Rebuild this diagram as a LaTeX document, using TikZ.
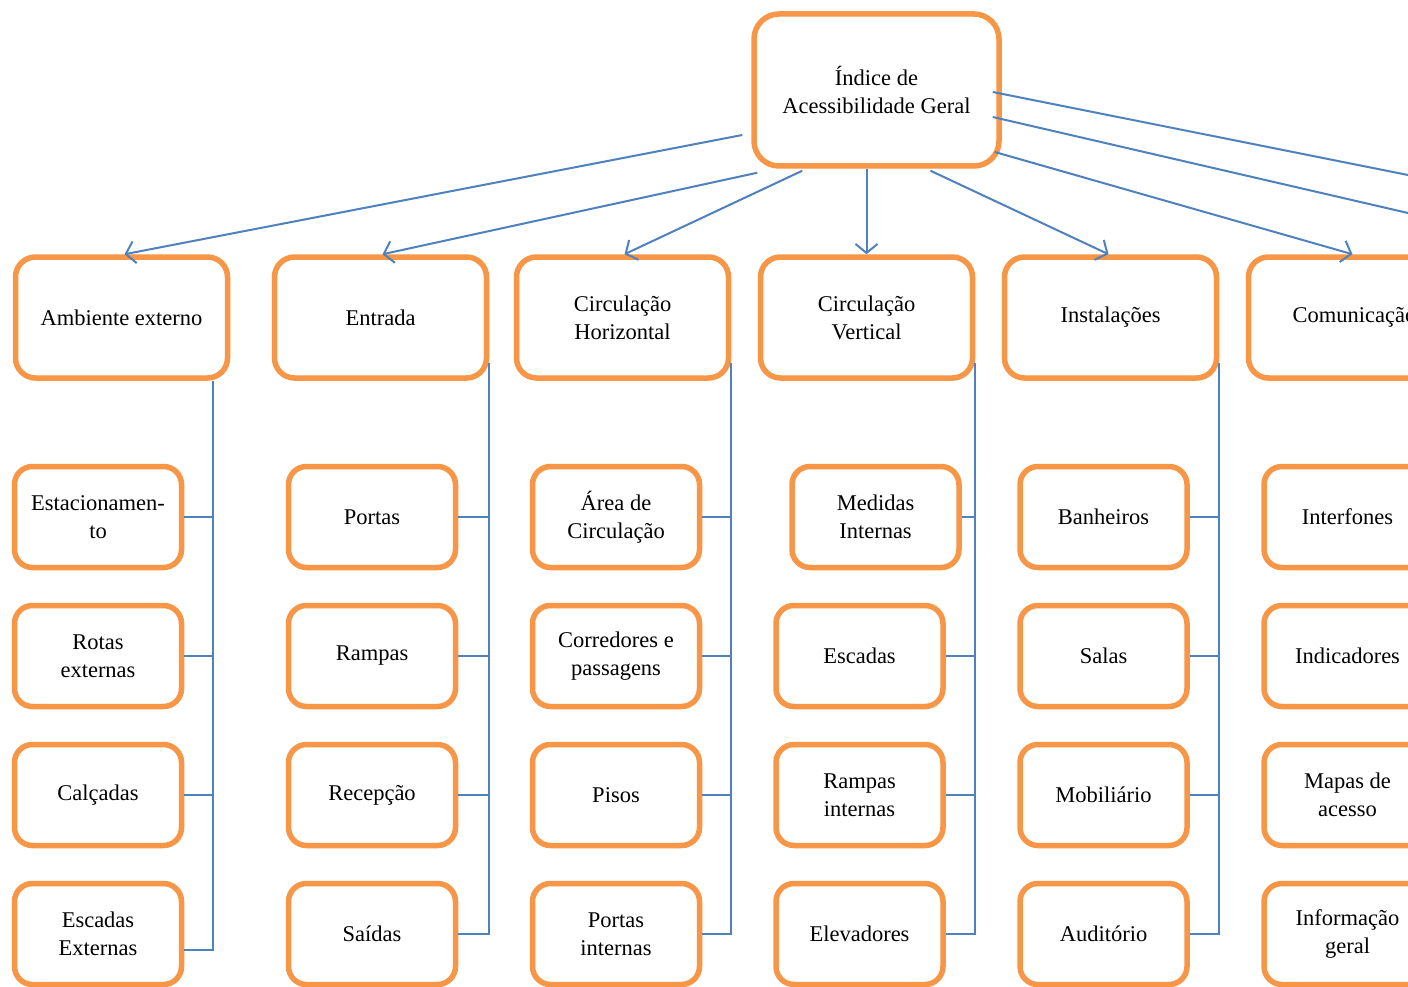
\documentclass[tikz,border=0pt]{standalone}
\usepackage{fontspec}
\setmainfont{Liberation Serif}
\usetikzlibrary{arrows.meta,calc}
\definecolor{boxorange}{HTML}{F79646}
\definecolor{linkblue}{HTML}{4F81BD}
\tikzset{
  box/.style={draw=boxorange, line width=5.5pt, rounded corners=20pt, fill=white,
    align=center, font=\fontsize{22.5}{28}\selectfont, inner sep=0pt, text=black},
  topbox/.style={box, minimum width=245pt, minimum height=152pt, rounded corners=25pt},
  catbox/.style={box, minimum width=212pt, minimum height=121pt},
  leafbox/.style={box, minimum width=167pt, minimum height=101pt, rounded corners=18pt},
  link/.style={draw=linkblue, line width=2pt},
  arrowlink/.style={link, -{Straight Barb[length=9pt,width=22pt]}}
}
\begin{document}
\begin{tikzpicture}[x=1pt,y=-1pt]
\useasboundingbox (0,0) rectangle (1408,987);
\clip (0,0) rectangle (1408,987);
\fill[white] (0,0) rectangle (1408,987);

% root
\node[topbox] (R) at (876.5,90) {Índice de\\Acessibilidade Geral};

% categories
\node[catbox] (A)  at (121.5,317.5) {Ambiente externo};
\node[catbox] (E)  at (380.5,317.5) {Entrada};
\node[catbox] (CH) at (622.5,317.5) {Circulação\\Horizontal};
\node[catbox] (CV) at (866.5,317.5) {Circulação\\Vertical};
\node[catbox] (I)  at (1110.5,317.5) {Instalações};
\node[catbox] (C)  at (1354.5,317.5) {Comunicação};

% leaves: Ambiente externo
\node[leafbox] (A1) at (98,517) {Estacionamen-\\to};
\node[leafbox] (A2) at (98,656) {Rotas\\externas};
\node[leafbox] (A3) at (98,795) {Calçadas};
\node[leafbox] (A4) at (98,934) {Escadas\\Externas};
% Entrada
\node[leafbox] (E1) at (372,517) {Portas};
\node[leafbox] (E2) at (372,656) {Rampas};
\node[leafbox] (E3) at (372,795) {Recepção};
\node[leafbox] (E4) at (372,934) {Saídas};
% Circulacao Horizontal
\node[leafbox] (H1) at (616,517) {Área de\\Circulação};
\node[leafbox] (H2) at (616,656) {Corredores e\\passagens};
\node[leafbox] (H3) at (616,795) {Pisos};
\node[leafbox] (H4) at (616,934) {Portas\\internas};
% Circulacao Vertical
\node[leafbox] (V1) at (875.5,517) {Medidas\\Internas};
\node[leafbox] (V2) at (859.5,656) {Escadas};
\node[leafbox] (V3) at (859.5,795) {Rampas\\internas};
\node[leafbox] (V4) at (859.5,934) {Elevadores};
% Instalacoes
\node[leafbox] (I1) at (1103.5,517) {Banheiros};
\node[leafbox] (I2) at (1103.5,656) {Salas};
\node[leafbox] (I3) at (1103.5,795) {Mobiliário};
\node[leafbox] (I4) at (1103.5,934) {Auditório};
% Comunicacao
\node[leafbox] (C1) at (1347.5,517) {Interfones};
\node[leafbox] (C2) at (1347.5,656) {Indicadores};
\node[leafbox] (C3) at (1347.5,795) {Mapas de\\acesso};
\node[leafbox] (C4) at (1347.5,934) {Informação\\geral};

% root to categories
\draw[arrowlink] ($(R.west)+(-9,45)$) -- ($(A.north)+(3,0)$);
\draw[arrowlink] ($(R.south west)+(6,4)$) -- ($(E.north)+(2,0)$);
\draw[arrowlink] ($(R.south west)+(51,2)$) -- ($(CH.north)+(2,0)$);
\draw[arrowlink] (R.south -| CV.north) -- (CV.north);
\draw[arrowlink] ($(R.south)+(54,2)$) -- ($(I.north)+(-2,0)$);
\draw[arrowlink] ($(R.east)+(-7,62)$) -- ($(C.north)+(-2,0)$);
\coordinate (X1) at (1408,175);
\coordinate (X2) at (1408,213);
\draw[link] ($(R.east)+(-9,2)$) -- (X1);
\draw[link] ($(R.east)+(-9,27)$) -- (X2);

% buses
\draw[link] ($(A.south east)+(-17,0)$) coordinate (Ab) |- ($(A4.east)+(0,16)$);
\foreach \c in {A1,A2,A3} \draw[link] (\c.east) -- (\c.east -| Ab);

\draw[link] ($(E.east)+(0,45)$) coordinate (Eb) |- (E4.east);
\foreach \c in {E1,E2,E3} \draw[link] (\c.east) -- (\c.east -| Eb);

\draw[link] ($(CH.east)+(0,45)$) coordinate (Hb) |- (H4.east);
\foreach \c in {H1,H2,H3} \draw[link] (\c.east) -- (\c.east -| Hb);

\draw[link] ($(CV.east)+(0,45)$) coordinate (Vb) |- (V4.east);
\foreach \c in {V1,V2,V3} \draw[link] (\c.east) -- (\c.east -| Vb);

\draw[link] ($(I.east)+(0,45)$) coordinate (Ib) |- (I4.east);
\foreach \c in {I1,I2,I3} \draw[link] (\c.east) -- (\c.east -| Ib);
\end{tikzpicture}
\end{document}
